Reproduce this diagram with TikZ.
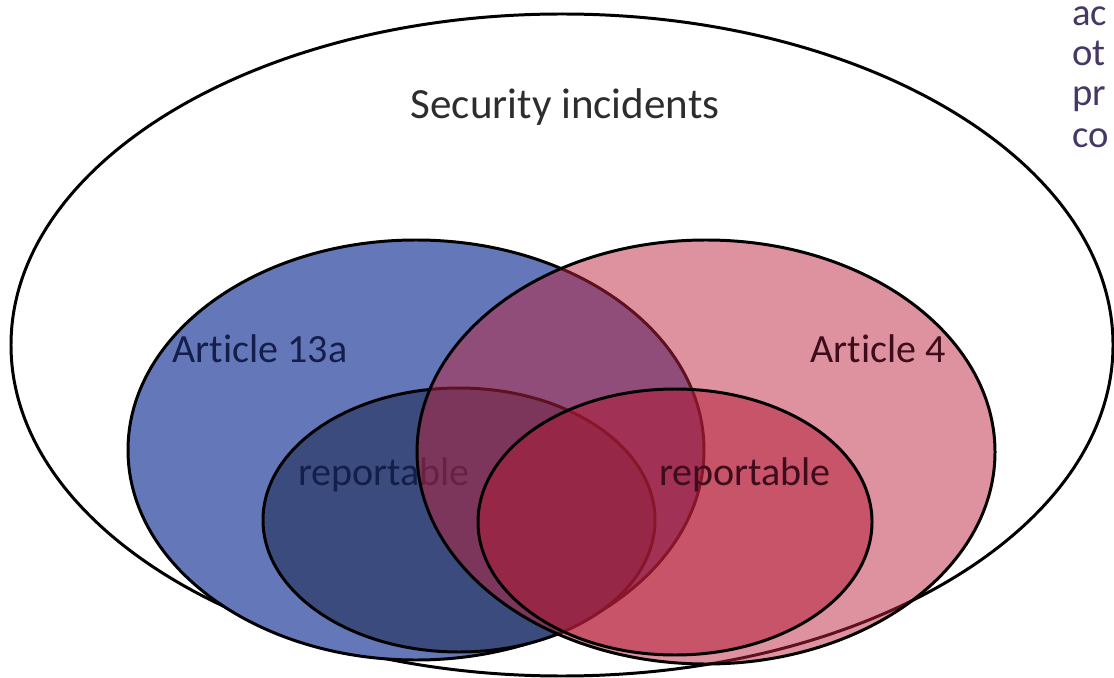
\documentclass[tikz,border=0pt]{standalone}
\usepackage{fontspec}
\setmainfont{Carlito}[Ligatures=NoCommon]

\definecolor{bluebig}{RGB}{100,120,185}
\definecolor{bluesmall}{RGB}{60,75,125}
\definecolor{redbig}{RGB}{189,35,61}
\definecolor{redsmall}{RGB}{178,25,52}
\definecolor{navytext}{RGB}{20,30,75}
\definecolor{maroontext}{RGB}{62,12,28}
\definecolor{greytext}{RGB}{45,45,45}
\definecolor{edgetext}{RGB}{70,55,100}

\tikzset{
  setline/.style={draw=black, line width=1.7pt},
  setlabel/.style={anchor=base, inner sep=0pt, font=\fontsize{22.8}{27}\selectfont},
  edgelabel/.style={anchor=base west, inner sep=0pt, text=edgetext, font=\fontsize{22}{26}\selectfont},
}

\begin{document}
\begin{tikzpicture}[x=0.02cm, y=-0.02cm]
            \useasboundingbox (0,0) rectangle (1114,678);

            \draw[setline] (562,345) ellipse [x radius=551, y radius=331];

            \node[setlabel, text=greytext, font=\fontsize{24.5}{29}\selectfont] (title) at (565,119) {Security incidents};

            \draw[setline, fill=bluebig] (416,450) ellipse [x radius=288, y radius=210];

            \node[setlabel, text=navytext] (art13a) at (260,362) {Article 13a};

            \draw[setline, fill=bluesmall] (459,520) ellipse [x radius=196, y radius=132];

            \node[setlabel, text=navytext] (rep13a) at (384,485) {reportable};

            \draw[setline, fill=redbig, fill opacity=0.5] (706,452) ellipse [x radius=289, y radius=212];

            \node[setlabel, text=maroontext] (art4) at (878,362) {Article 4};

            \draw[setline, fill=redsmall, fill opacity=0.5] (675,522) ellipse [x radius=197, y radius=133];

            \node[setlabel, text=maroontext] (rep4) at (745,485) {reportable};

            \node[edgelabel] (edgea) at (1072,26) {ac};

            \node[edgelabel] (edgeb) at (1072,66) {ot};

            \node[edgelabel] (edgec) at (1072,106) {pr};

            \node[edgelabel] (edged) at (1072,148) {co};
        \end{tikzpicture}
\end{document}
